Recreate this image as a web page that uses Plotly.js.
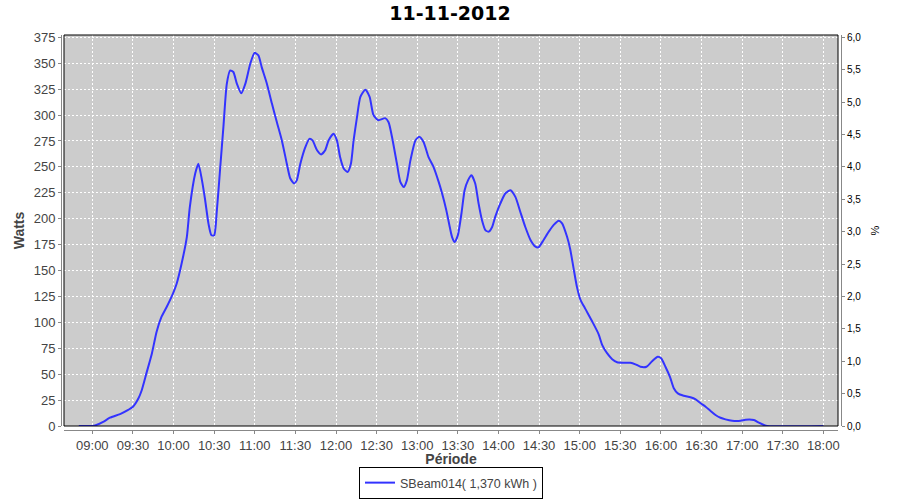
<!DOCTYPE html>
<html>
<head>
<meta charset="utf-8">
<script src="https://cdn.plot.ly/plotly-3.0.1.min.js"></script>
<style>html,body{margin:0;padding:0;background:#fff;}#chart{width:900px;height:500px;}</style>
</head>
<body>
<div id="chart"></div>
<script>
var chartDate = "2012-11-11";
var chartTitle = "11-11-2012";
var seriesName = "SBeam014( 1,370 kWh )";
var times = [
"08:50:00","09:00:00","09:02:00","09:08:00","09:13:00","09:20:30","09:26:30","09:30:00","09:34:00","09:36:30",
"09:40:00","09:44:00","09:47:30","09:51:00","09:55:00","09:58:40","10:02:20","10:06:00","10:09:50","10:12:00",
"10:16:00","10:18:20","10:21:00","10:23:20","10:25:50","10:28:00","10:30:00","10:32:00","10:34:20","10:36:50",
"10:39:20","10:41:50","10:44:10","10:46:50","10:50:00","10:53:00","10:56:40","10:59:50","11:02:40","11:05:10",
"11:09:00","11:12:40","11:16:20","11:20:00","11:23:40","11:26:10","11:29:00","11:31:00","11:33:40","11:37:20",
"11:40:20","11:42:40","11:46:00","11:49:00","11:52:00","11:54:30","11:58:10","12:00:40","12:03:00","12:05:40",
"12:08:30","12:11:00","12:13:00","12:15:30","12:18:00","12:21:40","12:24:50","12:27:40","12:31:20","12:36:20",
"12:38:50","12:41:20","12:45:00","12:47:30","12:50:00","12:52:20","12:55:00","12:58:40","13:01:30","13:04:40",
"13:08:20","13:12:00","13:15:50","13:18:20","13:21:30","13:24:20","13:25:40","13:27:40","13:30:00","13:32:40",
"13:35:00","13:37:30","13:40:00","13:42:50","13:45:20","13:47:50","13:50:20","13:52:50","13:55:20","13:57:40",
"14:01:20","14:05:10","14:08:50","14:12:30","14:16:10","14:19:50","14:23:40","14:27:20","14:29:40","14:33:20",
"14:37:10","14:40:50","14:44:30","14:47:00","14:50:40","14:53:00","14:55:30","14:58:00","15:00:30","15:04:10",
"15:09:10","15:14:00","15:16:40","15:20:20","15:24:00","15:27:40","15:32:40","15:37:30","15:41:10","15:44:50",
"15:49:20","15:53:30","15:57:40","16:00:10","16:03:20","16:06:40","16:09:30","16:12:30","16:16:50","16:21:50",
"16:25:40","16:29:20","16:33:00","16:36:40","16:40:20","16:44:00","16:47:40","16:52:40","16:58:50","17:02:30",
"17:08:40","17:12:20","17:16:00","17:18:40","18:00:00"
];
var watts = [
0,0,0.5,4,8,11.5,15.5,18.5,26.5,34.5,
51,70,91,105,115,125,137.5,157,182.5,211,
243.5,253,237,218,195,184,184,208,247,288.5,
330,343,341.5,330,321,330,349.5,360,357.5,346,
330,311,293,275.5,253,239,234,237,253,269,
277,275.5,266,262,266,275.5,282,275.5,259.5,248.5,
245,253,275.5,298,317.5,324.5,317.5,300,295,297,
293,279,253,235.5,230.5,237,256.5,275.5,279,274,
259.5,250,235.5,224.5,208,190,182.5,177.5,184,205,
227.5,237,242,234,214.5,198.5,189,187.5,192,202,
214.5,224.5,227.5,221,206.5,192,179.5,173,172.5,179.5,
187.5,194,198,195.5,182.5,170.5,152,134,122,113,
101,88.5,78,70,64.5,61.5,61,61,59.5,57.2,
57.2,62.5,66.8,65.3,57.2,47.5,36.5,31.5,29.2,27.7,
25.7,22,18.6,14.5,10.6,8,6.4,5.1,5.1,6.1,
5.8,3.2,1,0,0
];
var xTickStart = "09:00:00";
var xRangeStart = "08:39:05";
var xRangeEnd = "18:10:48";
var leftAxisMax = 377.2;
var rightAxisMax = 6.035;

var xs = times.map(function(t){ return chartDate + " " + t; });
var grey = "#888888";
var txt = "#444444";

var traces = [
  {
    x: xs, y: watts, type: "scatter", mode: "lines", name: seriesName,
    line: {color: "#3333ff", width: 2, shape: "spline", smoothing: 0.6},
    hoverinfo: "skip"
  },
  {
    x: [xs[0]], y: [null], type: "scatter", mode: "lines", yaxis: "y2",
    showlegend: false, hoverinfo: "skip"
  }
];

var layout = {
  width: 900, height: 500,
  margin: {l: 61, r: 59, t: 35, b: 70},
  paper_bgcolor: "#ffffff",
  plot_bgcolor: "#cccccc",
  separators: ",.",
  hovermode: false,
  title: {
    text: chartTitle, x: 0.5, xanchor: "center", y: 1 - 13.5/500, yanchor: "middle",
    font: {family: "DejaVu Sans", size: 19, color: "#000000", weight: "bold"}
  },
  xaxis: {
    type: "date",
    domain: [3/780, 777/780],
    anchor: "free", position: 0,
    range: [chartDate + " " + xRangeStart, chartDate + " " + xRangeEnd],
    tick0: chartDate + " " + xTickStart, dtick: 1800000,
    tickformat: "%H:%M",
    showline: true, linecolor: grey, linewidth: 1,
    ticks: "outside", ticklen: 3, tickcolor: grey,
    showgrid: true, gridcolor: "#ffffff", gridwidth: 1, griddash: "2px,2px",
    zeroline: false,
    tickfont: {family: "Liberation Sans", size: 13, color: txt},
    title: {text: "Période", standoff: 5, font: {family: "Liberation Sans", size: 14, color: txt, weight: "bold"}},
    automargin: false
  },
  yaxis: {
    domain: [4/395, 1],
    anchor: "free", position: 0,
    range: [0, leftAxisMax],
    tick0: 0, dtick: 25,
    showline: true, linecolor: grey, linewidth: 1,
    ticks: "outside", ticklen: 3, tickcolor: grey,
    showgrid: true, gridcolor: "#ffffff", gridwidth: 1, griddash: "2px,2px",
    zeroline: false,
    tickfont: {family: "Liberation Sans", size: 13, color: txt},
    title: {text: "Watts", standoff: 4, font: {family: "Liberation Sans", size: 14, color: txt, weight: "bold"}},
    automargin: false
  },
  yaxis2: {
    overlaying: "y", side: "right",
    anchor: "free", position: 1,
    range: [0, rightAxisMax],
    tick0: 0, dtick: 0.5, tickformat: ".1f",
    showline: true, linecolor: grey, linewidth: 1,
    ticks: "outside", ticklen: 3, tickcolor: grey,
    showgrid: false, zeroline: false,
    tickfont: {family: "Liberation Sans", size: 10, color: "#000000"},
    title: {text: "%", standoff: 10, font: {family: "Liberation Sans", size: 11, color: "#000000"}},
    automargin: false
  },
  showlegend: true,
  legend: {
    orientation: "h", xref: "paper", x: 0.5, xanchor: "center",
    yref: "container", y: 0.002, yanchor: "bottom",
    bgcolor: "#ffffff", bordercolor: "#000000", borderwidth: 1,
    font: {family: "Liberation Sans", size: 12.5, color: txt}
  },
  shapes: [
    {type: "rect", xref: "x domain", yref: "y domain", x0: 0, x1: 1, y0: 0, y1: 1,
     line: {color: "#000000", width: 1}, fillcolor: "rgba(0,0,0,0)", layer: "above"}
  ]
};

Plotly.newPlot("chart", traces, layout, {displayModeBar: false, staticPlot: true});
</script>
</body>
</html>
